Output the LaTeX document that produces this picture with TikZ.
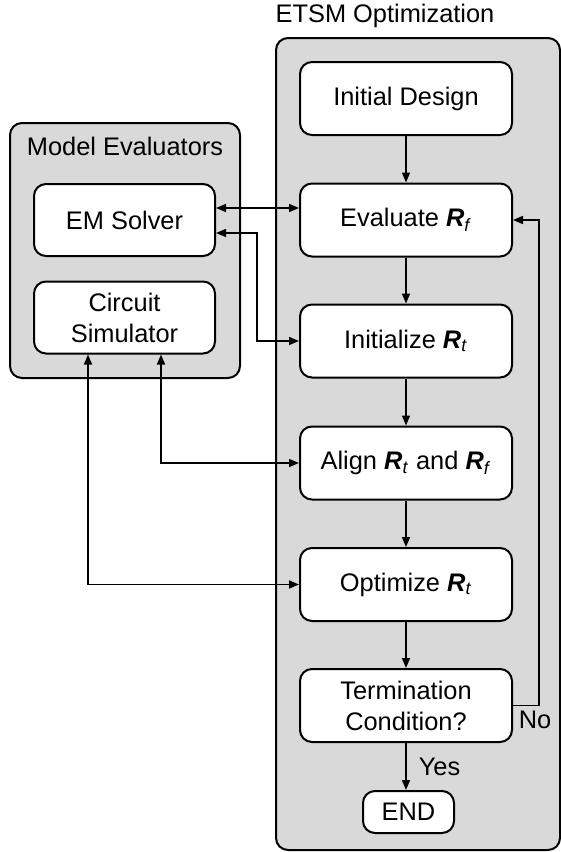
\documentclass[tikz,border=0pt]{standalone}
\usepackage{fontspec}
\setmainfont{Liberation Sans}
\usetikzlibrary{arrows.meta}

\newcommand{\Rsym}[1]{\textbf{\textit{R}}\textsubscript{\textit{#1}}}

\tikzset{
  group/.style={draw, line width=1pt, fill=black!15, rounded corners=6pt},
  block/.style={draw, line width=1pt, fill=white, rounded corners=6pt,
    minimum width=106pt, minimum height=36.5pt, align=center, inner sep=0pt},
  evalblock/.style={block, minimum width=90.5pt, minimum height=36pt},
  flow/.style={line width=0.8pt, -{Triangle[length=5pt,width=4pt]}},
  link/.style={line width=0.8pt, {Triangle[length=5pt,width=4pt]}-{Triangle[length=5pt,width=4pt]}}
}

\begin{document}
\begin{tikzpicture}[x=0.5pt,y=-0.5pt, font=\fontsize{12.7pt}{15.5pt}\selectfont]
\useasboundingbox (0,0) rectangle (561,852);

% containers
\draw[group] (276,38) rectangle (560,850);
\draw[group] (10,123) rectangle (240,378);
\node (optlabel) at (385,16) {ETSM Optimization};
\node (evallabel) at (125,146) {Model Evaluators};

% model evaluators
\node[evalblock] (em) at (124.5,220) {EM Solver};
\node[evalblock] (circ) at (124.5,317.5) {Circuit\\Simulator};

% optimization steps
\node[block] (init) at (406,98.5) {Initial Design};
\node[block] (evalf) at (406,220) {Evaluate \Rsym{f}};
\node[block] (initt) at (406,341) {Initialize \Rsym{t}};
\node[block] (align) at (406,463) {Align \Rsym{t} and \Rsym{f}};
\node[block] (optim) at (406,584.5) {Optimize \Rsym{t}};
\node[block] (term) at (406,705.5) {Termination\\Condition?};
\node[block, minimum width=45.5pt, minimum height=21pt] (endn) at (408.5,812) {END};

\draw[flow] (init) -- (evalf);
\draw[flow] (evalf) -- (initt);
\draw[flow] (initt) -- (align);
\draw[flow] (align) -- (optim);
\draw[flow] (optim) -- (term);
\draw[flow] (term.south) -- node[right, xshift=6pt, inner sep=0pt] {Yes} (term.south |- endn.north);
\draw[flow] (term.east) -- ++(13pt,0) node[pos=0, anchor=north west, inner sep=2.5pt] {No} |- (evalf.east);

% links to the evaluators
\draw[link] ([yshift=6pt]em.east) -- ([yshift=6pt]evalf.west);
\draw[link] ([yshift=-6.5pt]em.east) -| ([xshift=-21pt]initt.west) -- (initt.west);
\draw[link] ([xshift=18.25pt]circ.south) |- (align.west);
\draw[link] ([xshift=-18.25pt]circ.south) |- (optim.west);
\end{tikzpicture}
\end{document}
